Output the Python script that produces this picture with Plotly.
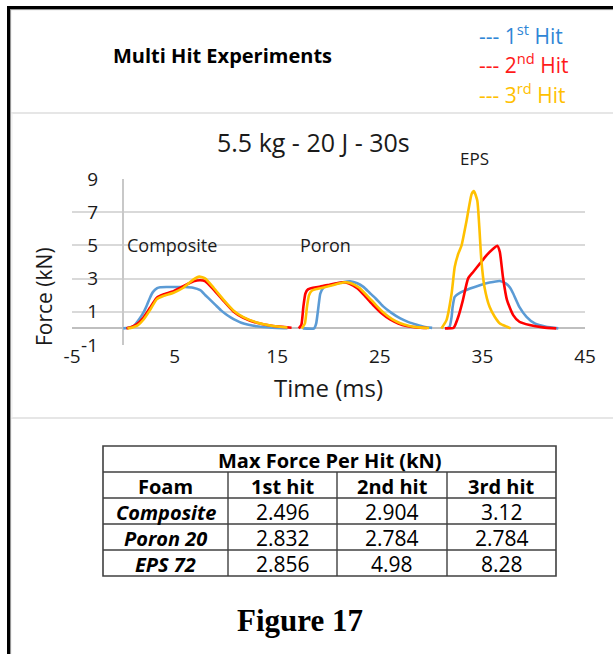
import plotly.graph_objects as go

# ---- impact force traces (time in ms, force in kN) ----
# 1st hit
hit1_comp_t = [0, 0.5, 1.0, 1.6, 2.0, 2.3, 2.6, 2.9, 3.3, 3.6, 4.2, 5.0, 6.0, 6.8, 7.5, 8.0, 8.5, 9.0, 9.5, 10.0, 10.5, 11.0, 11.5, 12.2, 13.0, 14.0, 15.0, 16.0]
hit1_comp_f = [0, 0.04, 0.14, 0.6, 1.0, 1.4, 1.85, 2.2, 2.42, 2.48, 2.496, 2.49, 2.49, 2.45, 2.3, 2.0, 1.7, 1.4, 1.1, 0.85, 0.65, 0.48, 0.34, 0.22, 0.13, 0.07, 0.03, 0.01]
hit1_poron_t = [17.5, 18.6, 18.8, 19.0, 19.2, 19.5, 20.0, 20.8, 21.5, 22.1, 22.8, 23.4, 24.0, 24.6, 25.3, 26.1, 27.0, 27.8, 28.6, 29.3, 30.1]
hit1_poron_f = [0, 0, 0.3, 1.2, 2.1, 2.45, 2.58, 2.7, 2.8, 2.832, 2.72, 2.5, 2.15, 1.8, 1.34, 0.95, 0.6, 0.38, 0.22, 0.1, 0.03]
hit1_eps_t = [31.5, 31.8, 32.0, 32.1, 32.3, 32.8, 33.8, 34.75, 35.7, 36.7, 37.3, 37.7, 38.0, 38.6, 39.3, 40.1, 41.2, 42.4]
hit1_eps_f = [0, 0.1, 0.7, 1.3, 1.9, 2.14, 2.4, 2.6, 2.76, 2.856, 2.7, 2.45, 2.1, 1.3, 0.7, 0.3, 0.1, 0]

# 2nd hit
hit2_comp_t = [0.3, 0.8, 1.3, 1.95, 2.6, 3.25, 3.9, 4.9, 5.85, 6.85, 7.5, 8.0, 8.8, 9.8, 10.7, 11.7, 13.0, 14.6, 16.4]
hit2_comp_f = [0, 0.08, 0.24, 0.64, 1.24, 1.84, 2.04, 2.24, 2.54, 2.84, 2.904, 2.84, 2.34, 1.64, 1.04, 0.64, 0.34, 0.14, 0.04]
hit2_poron_t = [17.1, 17.35, 17.55, 17.75, 18.0, 18.5, 19.2, 20.0, 20.8, 21.4, 22.0, 22.8, 23.6, 24.4, 25.2, 26.0, 26.8, 27.6, 28.6, 29.6]
hit2_poron_f = [0, 0.2, 1.3, 2.1, 2.35, 2.45, 2.52, 2.62, 2.72, 2.784, 2.7, 2.42, 1.92, 1.38, 0.9, 0.54, 0.3, 0.15, 0.06, 0.02]
hit2_eps_t = [31.35, 32.2, 32.65, 33.1, 33.6, 34.1, 34.75, 35.4, 36.05, 36.45, 36.7, 37.0, 37.4, 38.0, 38.6, 39.6, 40.9, 42.2]
hit2_eps_f = [0, 0.04, 0.7, 1.7, 3.0, 3.4, 3.9, 4.4, 4.8, 4.98, 4.6, 3.1, 1.7, 0.8, 0.4, 0.2, 0.06, 0]

# 3rd hit
hit3_comp_t = [0.4, 0.9, 1.4, 2.0, 2.6, 3.25, 3.9, 4.9, 5.85, 6.85, 7.4, 8.0, 8.8, 9.8, 10.7, 11.7, 13.0, 14.6, 16.0]
hit3_comp_f = [0, 0.06, 0.18, 0.55, 1.1, 1.75, 1.95, 2.15, 2.45, 2.95, 3.12, 3.0, 2.45, 1.7, 1.1, 0.68, 0.36, 0.15, 0.05]
hit3_poron_t = [17.4, 17.7, 17.9, 18.1, 18.4, 18.9, 19.6, 20.4, 21.0, 21.6, 22.2, 23.0, 23.8, 24.6, 25.4, 26.2, 27.0, 27.8, 28.8, 29.8]
hit3_poron_f = [0, 0.3, 1.3, 2.0, 2.28, 2.38, 2.48, 2.6, 2.7, 2.784, 2.72, 2.45, 1.95, 1.42, 0.93, 0.56, 0.31, 0.16, 0.06, 0.02]
hit3_eps_t = [31.0, 31.5, 32.0, 32.3, 32.65, 32.97, 33.46, 33.95, 34.17, 34.5, 34.7, 34.9, 35.2, 35.7, 36.2, 36.7, 37.4, 37.75]
hit3_eps_f = [0, 0.5, 2.1, 3.7, 4.5, 5.0, 6.5, 8.1, 8.28, 7.7, 6.1, 4.1, 2.5, 1.3, 0.7, 0.3, 0.1, 0]

hit_names = ["1st hit", "2nd hit", "3rd hit"]
hit_colors = ["#5B9BD5", "#FF0000", "#FFC000"]
foam_names = ["Composite", "Poron 20", "EPS 72"]
x_ticks = [-5, 5, 15, 25, 35, 45]
y_ticks = [-1, 1, 3, 5, 7, 9]

hits = [
    [(hit1_comp_t, hit1_comp_f), (hit1_poron_t, hit1_poron_f), (hit1_eps_t, hit1_eps_f)],
    [(hit2_comp_t, hit2_comp_f), (hit2_poron_t, hit2_poron_f), (hit2_eps_t, hit2_eps_f)],
    [(hit3_comp_t, hit3_comp_f), (hit3_poron_t, hit3_poron_f), (hit3_eps_t, hit3_eps_f)],
]

# ---- page geometry (pixels) ----
W, H = 613, 654
PL, PR, PT, PB = 72, 585, 179, 345   # plot area edges


def px(x):
    return (x - PL) / (PR - PL)


def py(y):
    return (PB - y) / (PB - PT)


FONT = "Open Sans"
INK = "#1a1a1a"
fig = go.Figure()

# one trace per hit, foams separated by gaps
for name, color, segs in zip(hit_names, hit_colors, hits):
    xs, ys = [], []
    for t, f in segs:
        xs += list(t) + [None]
        ys += list(f) + [None]
    fig.add_trace(go.Scatter(
        x=xs, y=ys, mode="lines", name=name, connectgaps=False,
        line=dict(color=color, width=2.6, shape="spline", smoothing=0.5),
        showlegend=False, hoverinfo="x+y",
    ))

fig.update_layout(
    width=W, height=H,
    margin=dict(l=PL, r=W - PR, t=PT, b=H - PB, pad=0),
    paper_bgcolor="white", plot_bgcolor="white",
    showlegend=False,
    xaxis=dict(
        range=[-5, 45], tickvals=x_ticks, ticktext=[str(v) for v in x_ticks],
        showgrid=False, zeroline=True, zerolinecolor="#c8c8c8", zerolinewidth=1.5,
        showline=False, ticks="", ticklabelstandoff=-2,
        tickfont=dict(family=FONT, size=19, color=INK),
    ),
    yaxis=dict(
        range=[-1, 9], tickvals=y_ticks, ticktext=[str(v) for v in y_ticks],
        showgrid=True, gridcolor="#d9d9d9", gridwidth=1.6,
        zeroline=True, zerolinecolor="#bfbfbf", zerolinewidth=2.2,
        showline=False, ticks="", ticklabelstandoff=-27,
        tickfont=dict(family=FONT, size=19, color=INK),
    ),
)

shapes = []


def hline(y, x0, x1, color, width):
    shapes.append(dict(type="line", xref="paper", yref="paper",
                       x0=px(x0), x1=px(x1), y0=py(y), y1=py(y),
                       line=dict(color=color, width=width)))


def vline(x, y0, y1, color, width):
    shapes.append(dict(type="line", xref="paper", yref="paper",
                       x0=px(x), x1=px(x), y0=py(y0), y1=py(y1),
                       line=dict(color=color, width=width)))


# page frame
hline(7.5, 7, W, "black", 3)
vline(8.5, 6, H, "black", 3)
hline(9.6, 10, W, "#8a8a8a", 1)
vline(10.6, 9, H, "#8a8a8a", 1)
# panel separators
hline(113, 11, W, "#e6e6e6", 2)
hline(418, 11, W, "#e6e6e6", 2)
vline(12, 113, 418, "#eeeeee", 1)

# ---- table of peak forces ----
col_x = [103, 228, 337, 447, 556]
row_y = [446, 472, 498, 524, 550, 576]
tcol = "#404040"
shapes.append(dict(type="rect", xref="paper", yref="paper",
                   x0=px(col_x[0]), x1=px(col_x[-1]), y0=py(row_y[-1]), y1=py(row_y[0]),
                   line=dict(color=tcol, width=1.6), fillcolor="rgba(0,0,0,0)"))
for y in row_y[1:-1]:
    hline(y, col_x[0], col_x[-1], tcol, 1.4)
for x in col_x[1:-1]:
    vline(x, row_y[1], row_y[-1], tcol, 1.4)

fig.update_layout(shapes=shapes)

ann = []


def text(x, y, s, size, color="black", family=FONT, xanchor="center", angle=0):
    ann.append(dict(xref="paper", yref="paper", x=px(x), y=py(y), text=s,
                    showarrow=False, xanchor=xanchor, yanchor="middle",
                    textangle=angle, font=dict(family=family, size=size, color=color)))


# header panel
text(222, 56, "<b>Multi Hit Experiments</b>", 20)
legend_colors = ["#2F86D6", "#FF1A1A", "#FFC000"]
legend_labels = ["--- 1<sup>st</sup> Hit", "--- 2<sup>nd</sup> Hit", "--- 3<sup>rd</sup> Hit"]
for i, (lab, c) in enumerate(zip(legend_labels, legend_colors)):
    text(477, 34 + 29.5 * i, lab, 21, color=c, xanchor="left")

# chart texts
text(313, 142, "5.5 kg - 20 J - 30s", 25, color=INK)
text(44, 297, "Force (kN)", 21, color=INK, angle=-90)
text(328, 387, "Time (ms)", 24, color=INK)
text(125, 245, "Composite", 18, color=INK, xanchor="left")
text(298, 245, "Poron", 18, color=INK, xanchor="left")
text(474, 158, "EPS", 17, color=INK)

# table text, peak values taken from each trace
text((col_x[0] + col_x[-1]) / 2, (row_y[0] + row_y[1]) / 2 + 1, "<b>Max Force Per Hit (kN)</b>", 20)
for j, head in enumerate(["Foam"] + hit_names):
    text((col_x[j] + col_x[j + 1]) / 2, (row_y[1] + row_y[2]) / 2 + 1, f"<b>{head}</b>", 20)
for i, foam in enumerate(foam_names):
    yc = (row_y[i + 2] + row_y[i + 3]) / 2 + 1
    text((col_x[0] + col_x[1]) / 2, yc, f"<b><i>{foam}</i></b>", 20)
    for j in range(3):
        peak = max(hits[j][i][1])
        text((col_x[j + 1] + col_x[j + 2]) / 2, yc, f"{peak:g}", 21)

text(300, 620, "<b>Figure 17</b>", 31, family="Liberation Serif")

fig.update_layout(annotations=ann)
fig.write_html("out.html")
